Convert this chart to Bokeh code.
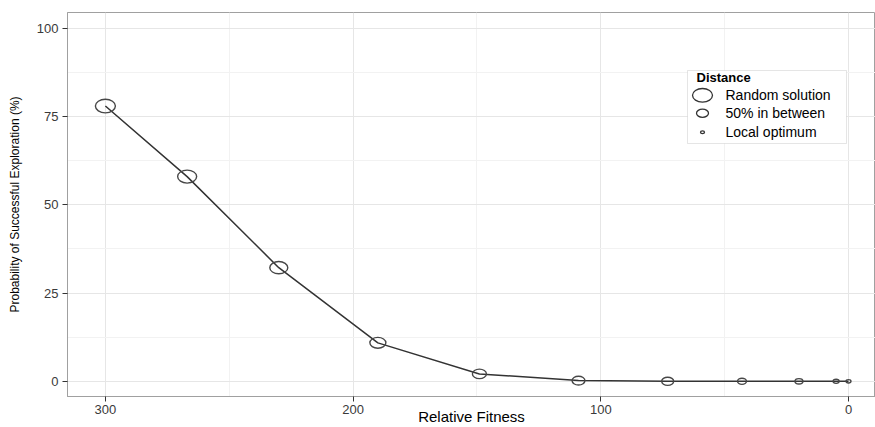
from bokeh.plotting import figure
from bokeh.models import (ColumnDataSource, Range1d, FixedTicker, Label, BoxAnnotation)
from bokeh.embed import file_html
from bokeh.resources import INLINE

# ---- data ----
fitness = [300, 267, 230, 190, 149, 109, 73, 43, 20, 5, 0]
probability = [78, 58, 32.2, 10.9, 2.1, 0.2, 0.0, 0.0, 0.0, 0.0, 0.0]
distance = [1.0, 0.94, 0.875, 0.75, 0.625, 0.56, 0.5, 0.31, 0.25, 0.125, 0.06]

legend_labels = ["Random solution", "50% in between", "Local optimum"]
legend_distance = [1.0, 0.5, 0.0]

x_ticks = [0, 100, 200, 300]
x_minor = [50, 150, 250]
y_ticks = [0, 25, 50, 75, 100]
y_minor = [12.5, 37.5, 62.5, 87.5]

FONT = "Liberation Sans"

def size_w(d):
    return 4 + 16 * d

def size_h(d):
    return size_w(d) * 0.68

x0, x1 = 315.3, -10.9
y0, y1 = -4.3, 104.5
W, H = 875, 427
ML, MB, MT = 67, 30, 12
FW = W - ML
FH = H - MB - MT

p = figure(width=W, height=H, output_backend="svg", toolbar_location=None,
           x_range=Range1d(x0, x1), y_range=Range1d(y0, y1),
           min_border_left=ML, min_border_right=0, min_border_top=MT,
           min_border_bottom=MB)
p.background_fill_color = "white"
p.outline_line_color = "#a0a0a0"
p.outline_line_width = 1

p.xaxis.ticker = FixedTicker(ticks=x_ticks, minor_ticks=x_minor)
p.yaxis.ticker = FixedTicker(ticks=y_ticks, minor_ticks=y_minor)
p.xgrid.ticker = FixedTicker(ticks=x_ticks, minor_ticks=x_minor)
p.ygrid.ticker = FixedTicker(ticks=y_ticks, minor_ticks=y_minor)
for g in (p.xgrid, p.ygrid):
    g.grid_line_color = "#e6e6e6"
    g.grid_line_width = 1
    g.minor_grid_line_color = "#f2f2f2"
    g.minor_grid_line_width = 1

for ax in (p.xaxis, p.yaxis):
    ax.axis_line_color = "#a0a0a0"
    ax.major_tick_line_color = "#333333"
    ax.major_tick_line_width = 1
    ax.major_tick_in = 0
    ax.major_tick_out = 5
    ax.minor_tick_line_color = None
    ax.major_label_text_font = FONT
    ax.major_label_text_font_size = "13px"
    ax.major_label_text_color = "#3a3a3a"
    ax.axis_label_text_font = FONT
    ax.axis_label_text_font_style = "normal"
    ax.axis_label_text_color = "black"

p.xaxis.major_label_standoff = 3
p.yaxis.major_label_standoff = 4
p.yaxis.axis_label = "Probability of Successful Exploration (%)"
p.yaxis.axis_label_text_font_size = "12px"
p.yaxis.axis_label_standoff = 12
p.xaxis.axis_label = "Relative Fitness"
p.xaxis.axis_label_text_font_size = "15px"
p.xaxis.axis_label_standoff = -9

src = ColumnDataSource(dict(
    x=fitness, y=probability,
    w=[size_w(d) for d in distance],
    h=[size_h(d) for d in distance],
))
p.line("x", "y", source=src, line_color="#333333", line_width=1.5)
p.ellipse("x", "y", width="w", height="h", source=src,
          width_units="screen", height_units="screen",
          fill_color=None, line_color="#474747", line_width=1.4)

# ---- manual size legend ----
def px_to_x(px):
    return x0 + (px / FW) * (x1 - x0)

def py_to_y(py):
    return y0 + (py / FH) * (y1 - y0)

p.add_layout(BoxAnnotation(left=620, right=779, top=326, bottom=253,
                           left_units="screen", right_units="screen",
                           top_units="screen", bottom_units="screen",
                           fill_color="white", fill_alpha=1.0,
                           line_color="#a8a8a8", line_width=1))
p.add_layout(Label(x=629, y=319, x_units="screen", y_units="screen",
                   text="Distance", text_font=FONT, text_font_size="13px",
                   text_font_style="bold", text_baseline="middle",
                   text_color="black"))
item_y = [302, 284, 265]
for lab, yy in zip(legend_labels, item_y):
    p.add_layout(Label(x=658, y=yy, x_units="screen", y_units="screen",
                       text=lab, text_font=FONT, text_font_size="14px",
                       text_baseline="middle", text_color="black"))
leg_src = ColumnDataSource(dict(
    x=[px_to_x(635)] * 3,
    y=[py_to_y(v) for v in item_y],
    w=[size_w(d) for d in legend_distance],
    h=[size_h(d) for d in legend_distance],
))
r = p.ellipse("x", "y", width="w", height="h", source=leg_src,
              width_units="screen", height_units="screen",
              fill_color=None, line_color="#333333", line_width=1.3)
r.level = "overlay"

open("out.html", "w").write(file_html(p, INLINE))
